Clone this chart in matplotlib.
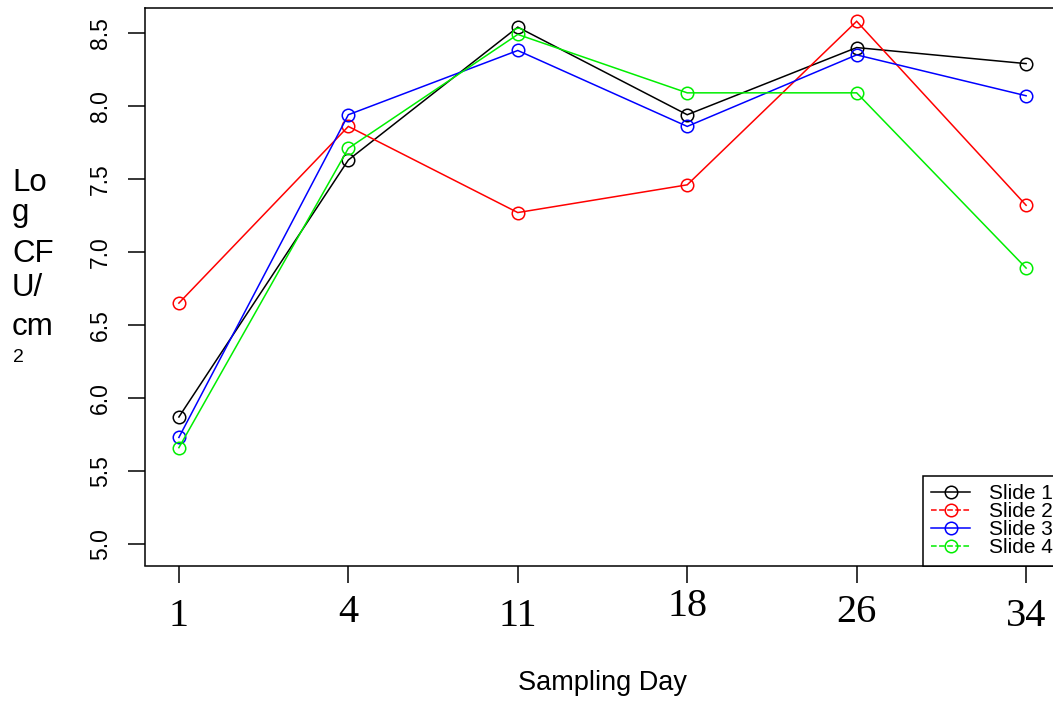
import matplotlib
matplotlib.use("Agg")
import matplotlib.pyplot as plt
import matplotlib.transforms as mtransforms

days = ["1", "4", "11", "18", "26", "34"]
slide1 = [5.87, 7.63, 8.54, 7.94, 8.40, 8.29]
slide2 = [6.65, 7.86, 7.27, 7.46, 8.58, 7.32]
slide3 = [5.73, 7.94, 8.38, 7.86, 8.35, 8.07]
slide4 = [5.66, 7.71, 8.49, 8.09, 8.09, 6.89]
series_names = ["Slide 1", "Slide 2", "Slide 3", "Slide 4"]
series_colors = ["black", "red", "blue", "#00ee00"]
series_styles = ["-", "--", "-", "--"]
yticks = [5.0, 5.5, 6.0, 6.5, 7.0, 7.5, 8.0, 8.5]
# vertical offsets (px) of the x tick labels, as drawn in the original
label_offsets_px = [0, 4, 0, 10, 4, 0]

W, H = 1053, 702
fig = plt.figure(figsize=(W / 100, H / 100), dpi=100)
ax = fig.add_axes([145 / W, 1 - 565.5 / H, (1060 - 145) / W, (565.5 - 8) / H])

x = list(range(1, len(days) + 1))
handles = []
for vals, name, col, ls in zip([slide1, slide2, slide3, slide4], series_names, series_colors, series_styles):
    ax.plot(x, vals, color=col, lw=1.1, marker="o", ms=9, mfc="none", mec=col, mew=1.1, solid_joinstyle="miter")
    h, = ax.plot([], [], color=col, lw=1.1, ls=ls, marker="o", ms=9, mfc="none", mec=col, mew=1.1)
    handles.append(h)

ax.set_xlim(0.8, 6.2)
ax.set_ylim(4.853, 8.671)

for s in ax.spines.values():
    s.set_linewidth(1.1)

ax.set_yticks(yticks)
ax.set_yticklabels([f"{v:.1f}" for v in yticks], rotation=90, va="center",
                   family="Liberation Sans", fontsize=16.5)
ax.tick_params(axis="y", direction="out", length=12, width=1.1, pad=12)

ax.set_xticks(x)
ax.set_xticklabels([""] * len(x))
ax.tick_params(axis="x", direction="out", length=12, width=1.1)

for xi, lab, off in zip(x, days, label_offsets_px):
    tr = mtransforms.blended_transform_factory(ax.transData, fig.transFigure)
    tr = tr + mtransforms.ScaledTranslation(0, off / 100, fig.dpi_scale_trans)
    ax.text(xi, 1 - 616 / H, lab, transform=tr, ha="center", va="center",
            family="Liberation Serif", fontsize=29)

fig.text(603 / W, 1 - 683 / H, "Sampling Day", ha="center", va="center",
         family="Liberation Sans", fontsize=19.5)

ylab_lines = ["Lo", "g", "CF", "U/", "cm"]
ylab_base = [191, 221, 262, 296, 335]
for t, yy in zip(ylab_lines, ylab_base):
    fig.text(12 / W, 1 - yy / H, t, ha="left", va="baseline",
             family="Liberation Sans", fontsize=22.5)
fig.text(13 / W, 1 - 362 / H, "2", ha="left", va="baseline",
         family="Liberation Sans", fontsize=14)

leg = ax.legend(handles, series_names, loc="lower left",
                bbox_to_anchor=((923 - 145) / 915, 0.0),
                frameon=True, fancybox=False, framealpha=1, edgecolor="black",
                prop={"family": "Liberation Sans", "size": 15}, labelspacing=-0.05,
                handlelength=1.87, handletextpad=0.9, borderpad=0.4, borderaxespad=0)
leg.get_frame().set_linewidth(1.1)

fig.savefig("out.png", dpi=100)
